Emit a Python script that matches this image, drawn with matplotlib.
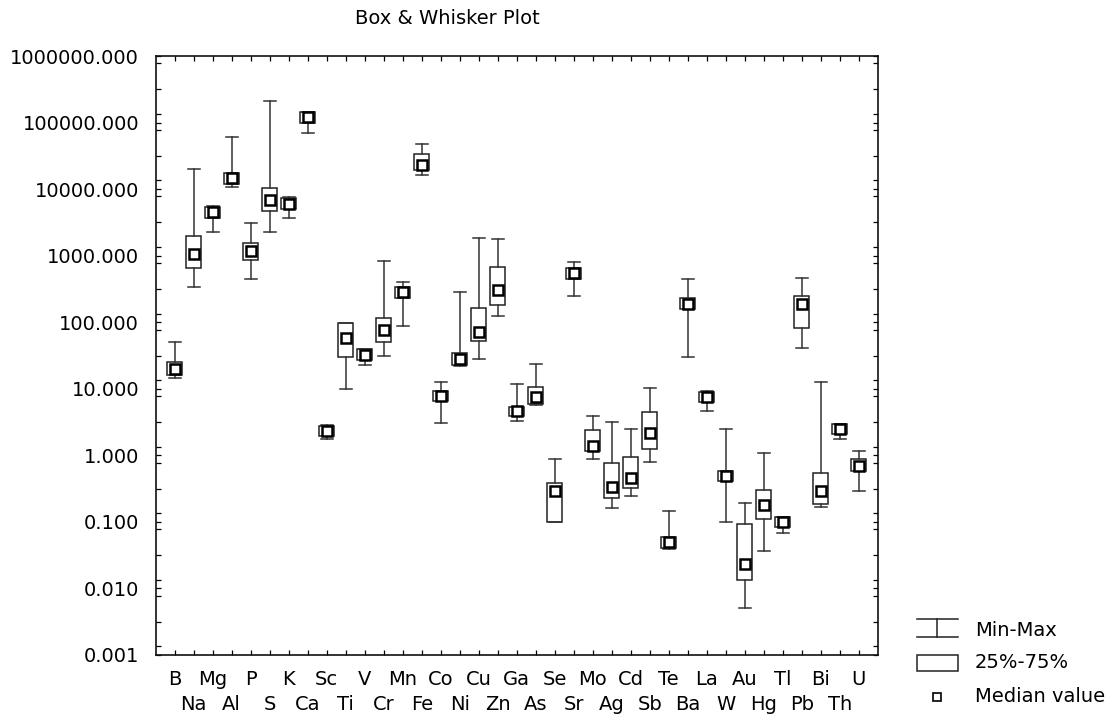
import matplotlib
matplotlib.use("Agg")
import matplotlib.pyplot as plt
import numpy as np
from matplotlib.ticker import FixedLocator, FuncFormatter, NullFormatter
from matplotlib.lines import Line2D
from matplotlib.patches import Rectangle

plt.rcParams['font.family'] = ['DejaVu Sans']

elements = ["B", "Na", "Mg", "Al", "P", "S", "K", "Ca", "Sc", "Ti", "V", "Cr", "Mn",
            "Fe", "Co", "Ni", "Cu", "Zn", "Ga", "As", "Se", "Sr", "Mo", "Ag", "Cd",
            "Sb", "Te", "Ba", "La", "W", "Au", "Hg", "Tl", "Pb", "Bi", "Th", "U"]

mins = [14.7, 343, 2270, 10900, 452, 2270, 3720, 68900, 1.75, 9.8, 22.8, 30.8, 87.9,
        16300, 3.03, 22.0, 28.4, 125, 3.33, 5.65, 0.099, 248, 0.873, 0.164, 0.248,
        0.80, 0.039, 29.7, 4.64, 0.099, 0.00516, 0.0366, 0.069, 40.6, 0.166, 1.77, 0.295]

q1s = [16.1, 653, 3640, 11800, 861, 4740, 4960, 99600, 1.96, 29.7, 27.1, 51, 234,
       19400, 6.6, 22.8, 52.3, 181.6, 3.9, 5.92, 0.1, 452, 1.18, 0.232, 0.328,
       1.23, 0.040, 156, 6.41, 0.41, 0.0134, 0.111, 0.083, 82, 0.188, 2.07, 0.583]

medians = [19.9, 1060, 4480, 14500, 1190, 6940, 5970, 119800, 2.35, 58.7, 32.2, 75.5, 281,
           23000, 7.73, 27.7, 72.3, 305, 4.64, 7.46, 0.295, 543, 1.40, 0.34, 0.463,
           2.15, 0.0494, 188, 7.64, 0.497, 0.0229, 0.182, 0.099, 186, 0.288, 2.47, 0.693]

q3s = [25.6, 1955, 5450, 17650, 1530, 10300, 7260, 146000, 2.8, 98.6, 39.2, 117, 343,
       33300, 9.3, 34.1, 162, 668, 5.27, 10.8, 0.39, 645, 2.41, 0.778, 0.935,
       4.54, 0.0588, 229, 9.08, 0.59, 0.0944, 0.302, 0.117, 251, 0.551, 2.93, 0.873]

maxs = [51, 19800, 5500, 60000, 3060, 211000, 7700, 146000, 2.85, 99, 39.5, 841, 403,
        47600, 12.8, 281, 1870, 1760, 11.7, 23.6, 0.89, 794, 3.95, 3.21, 2.49,
        10.1, 0.148, 442, 9.3, 2.47, 0.193, 1.10, 0.118, 457, 12.7, 2.95, 1.18]

W, H = 1117, 716
fig = plt.figure(figsize=(W / 100, H / 100), dpi=100)
ax = fig.add_axes([155.7 / W, (H - 655) / H, 722 / W, 599 / H])

positions = np.arange(1, len(elements) + 1)
stats = []
for i in range(len(elements)):
    stats.append(dict(med=medians[i], q1=q1s[i], q3=q3s[i],
                      whislo=mins[i], whishi=maxs[i], fliers=[]))

ax.bxp(stats, positions=positions, widths=0.8, capwidths=0.65,
       showfliers=False, patch_artist=True,
       boxprops=dict(facecolor='white', edgecolor='#222222', linewidth=1.1),
       whiskerprops=dict(color='#333333', linewidth=1.1),
       capprops=dict(color='#333333', linewidth=1.1),
       medianprops=dict(linewidth=0, color='none'))

ax.plot(positions, medians, linestyle='none', marker='s', markersize=7.2,
        markerfacecolor='white', markeredgecolor='black', markeredgewidth=1.8, zorder=5)

ax.set_yscale('log')
ax.set_ylim(0.001, 1e6)
ax.set_xlim(0, len(elements) + 1)

majors = [10.0 ** k for k in range(-3, 7)]
ax.yaxis.set_major_locator(FixedLocator(majors))
ax.yaxis.set_major_formatter(FuncFormatter(lambda v, p: f"{v:.3f}"))
minors = []
for m in majors:
    for off in (0.13, -0.11, -0.5):
        v = m * 10 ** off
        if 0.001 < v < 1e6:
            minors.append(v)
ax.yaxis.set_minor_locator(FixedLocator(minors))
ax.yaxis.set_minor_formatter(NullFormatter())

# two rows of category labels: odd categories on major ticks, even on minor ticks
ax.set_xticks(positions[0::2])
ax.set_xticklabels(elements[0::2])
ax.set_xticks(positions[1::2], minor=True)
ax.set_xticklabels(elements[1::2], minor=True)

ax.tick_params(axis='both', which='both', direction='in', top=True, right=True,
               length=3.5, width=0.9, labelsize=14, colors='black')
ax.tick_params(axis='y', which='major', pad=12)
ax.tick_params(axis='x', which='major', pad=11)
ax.tick_params(axis='x', which='minor', pad=29)
for s in ax.spines.values():
    s.set_linewidth(1.2)
    s.set_color('#111111')

# Title
fig.text(447 / W, 1 - 18 / H, "Box & Whisker Plot", ha='center', va='center', fontsize=14)

# Legend (drawn in figure pixel coordinates)
lg = fig.add_axes([0, 0, 1, 1], facecolor='none')
lg.set_xlim(0, W)
lg.set_ylim(H, 0)
lg.axis('off')
lg.add_line(Line2D([917, 958], [619, 619], color='#222222', lw=1.1))
lg.add_line(Line2D([917, 958], [637, 637], color='#222222', lw=1.1))
lg.add_line(Line2D([937, 937], [619, 637], color='#222222', lw=1.1))
lg.add_patch(Rectangle((917, 655), 41, 16, facecolor='white', edgecolor='#222222', lw=1.1))
lg.plot([937], [696.5], marker='s', markersize=6.3, markerfacecolor='white',
        markeredgecolor='black', markeredgewidth=1.2, linestyle='none')
lg.text(975, 630, "Min-Max", ha='left', va='center', fontsize=14)
lg.text(975, 663, "25%-75%", ha='left', va='center', fontsize=14)
lg.text(975, 696, "Median value", ha='left', va='center', fontsize=14)

fig.savefig("out.png", dpi=100)
